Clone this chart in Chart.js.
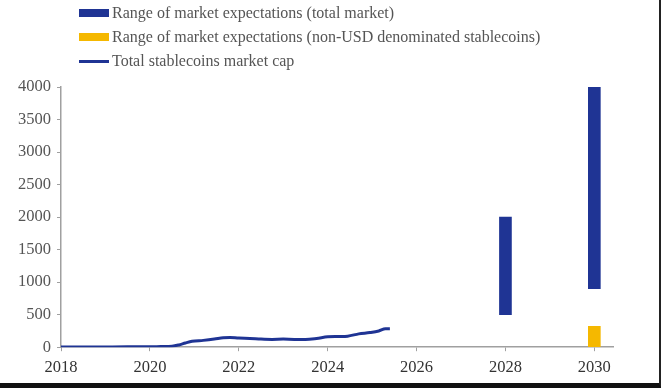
<!DOCTYPE html>
<html lang="en">
<head>
    <meta charset="UTF-8">
    <title>Stablecoins market cap</title>
    <style>
        * { margin: 0; padding: 0; box-sizing: border-box; }
        body { width: 661px; height: 388px; background: #fff; overflow: hidden; font-family: "Liberation Serif", "DejaVu Serif", serif; }
        .frame { position: relative; width: 661px; height: 388px; border-right: 2px solid #222; border-bottom: 5px solid #111; }
        .legend { position: absolute; left: 79px; top: 1px; color: #555; font-size: 16px; }
        .legend div { height: 24px; line-height: 22px; display: flex; align-items: center; }
        .legend span.box { display: inline-block; width: 30px; height: 8px; margin-right: 3px; }
        .legend span.ln { display: inline-block; width: 30px; height: 3px; margin-right: 3px; }
        #chart { position: absolute; left: 0; top: 0; }
    </style>
    <script src="https://cdn.jsdelivr.net/npm/chart.js"></script>
</head>
<body>
<div class="frame">
    <canvas id="chart" width="659" height="385"></canvas>
    <div class="legend">
        <div><span class="box" style="background:#1f3494"></span>Range of market expectations (total market)</div>
        <div><span class="box" style="background:#f5b800"></span>Range of market expectations (non-USD denominated stablecoins)</div>
        <div><span class="ln" style="background:#1f3494"></span>Total stablecoins market cap</div>
    </div>
</div>
<script>
    // total stablecoins market cap (USD bn), by date
    const capYears = [2018.0, 2018.5, 2019.0, 2019.5, 2020.0, 2020.25, 2020.5, 2020.65, 2020.8, 2020.95, 2021.2, 2021.45, 2021.65, 2021.8, 2022.0, 2022.25, 2022.5, 2022.75, 2023.0, 2023.25, 2023.5, 2023.75, 2024.0, 2024.25, 2024.45, 2024.7, 2024.95, 2025.15, 2025.3, 2025.4];
    const capValues = [3, 3, 4, 5, 6, 10, 15, 35, 65, 90, 105, 125, 145, 150, 140, 135, 125, 120, 125, 120, 120, 135, 160, 165, 170, 205, 225, 250, 285, 285];

    // ranges of market expectations
    const rangeYears = [2028, 2030];
    const totalLow = [500, 900];
    const totalHigh = [2000, 4000];
    const nonUsdYears = [2030];
    const nonUsdLow = [0];
    const nonUsdHigh = [320];

    const blue = '#1f3494';
    const gold = '#f5b800';
    const textColor = '#555';
    const axisColor = '#a0a0a0';

    new Chart(document.getElementById('chart'), {
        data: {
            datasets: [
                {
                    type: 'line',
                    label: 'Total stablecoins market cap',
                    data: capYears.map((x, i) => ({ x: x, y: capValues[i] })),
                    borderColor: blue,
                    borderWidth: 3,
                    pointRadius: 0,
                    cubicInterpolationMode: 'monotone',
                    order: 1
                },
                {
                    type: 'bar',
                    label: 'Range of market expectations (total market)',
                    data: rangeYears.map((x, i) => ({ x: x, y: [totalLow[i], totalHigh[i]] })),
                    backgroundColor: blue,
                    barThickness: 12,
                    grouped: false,
                    order: 2
                },
                {
                    type: 'bar',
                    label: 'Range of market expectations (non-USD denominated stablecoins)',
                    data: nonUsdYears.map((x, i) => ({ x: x, y: [nonUsdLow[i], nonUsdHigh[i]] })),
                    backgroundColor: gold,
                    barThickness: 12,
                    grouped: false,
                    order: 2
                }
            ]
        },
        options: {
            responsive: false,
            animation: false,
            layout: { padding: { left: 12, right: 46, top: 87, bottom: 0 } },
            plugins: { legend: { display: false }, tooltip: { enabled: false } },
            scales: {
                x: {
                    type: 'linear',
                    offset: false,
                    min: 2018,
                    max: 2030.42,
                    ticks: {
                        stepSize: 2,
                        includeBounds: false,
                        color: '#333',
                        font: { family: 'Liberation Serif', size: 16.5 },
                        padding: 7,
                        callback: v => String(v),
                        maxRotation: 0,
                        autoSkip: false
                    },
                    grid: { display: true, drawOnChartArea: false, offset: false, tickLength: 4, color: axisColor },
                    border: { color: axisColor, width: 1.5 }
                },
                y: {
                    min: 0,
                    max: 4000,
                    ticks: {
                        stepSize: 500,
                        color: textColor,
                        font: { family: 'Liberation Serif', size: 16.5 },
                        padding: 6,
                        callback: v => String(v)
                    },
                    grid: { display: true, drawOnChartArea: false, tickLength: 4, color: axisColor },
                    border: { color: axisColor, width: 1.5 }
                }
            }
        }
    });
</script>
</body>
</html>
